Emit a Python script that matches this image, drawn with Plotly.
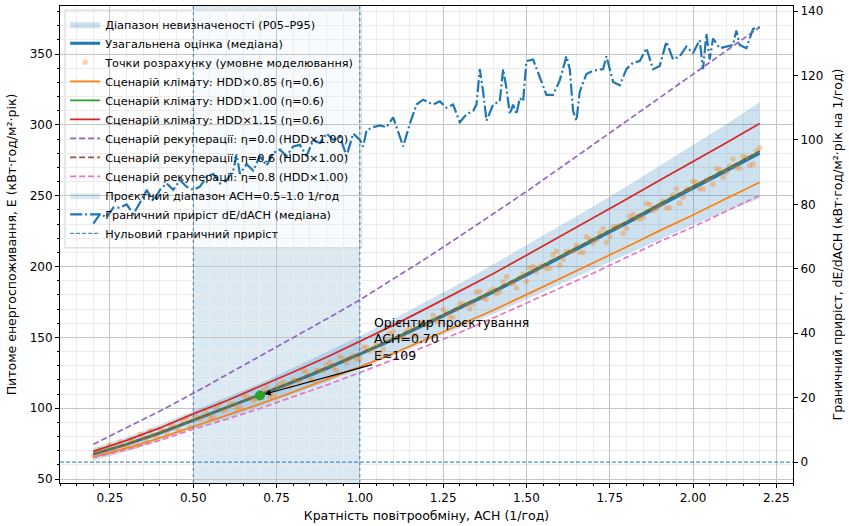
import plotly.graph_objects as go

# ---------------- data ----------------
ach = [0.2, 0.3, 0.4, 0.5, 0.6, 0.7, 0.8, 0.9, 1.0, 1.1, 1.2, 1.3, 1.4, 1.5, 1.6, 1.7, 1.8, 1.9, 2.0, 2.1, 2.2]
median = [67.5, 74.5, 82.5, 91.5, 100, 109, 118.5, 128, 138, 148.5, 159.5, 170.5, 182, 194, 206, 218, 230.5, 243, 255, 267.5, 280]
band_low = [63, 69.5, 77, 85.5, 93, 101, 110, 118.5, 128, 137, 147, 156.5, 166.5, 177, 187.5, 198, 209, 219.5, 229.5, 239, 248]
band_high = [72, 79.5, 88.3, 98, 107.5, 117.5, 128.5, 139.5, 151, 163, 175.5, 188, 201.5, 215, 228.5, 242.5, 256.5, 271, 285.5, 300.5, 316]
hdd_085 = [65.5, 71.8, 79, 87, 94.8, 103, 111.5, 120.2, 129.2, 138.7, 148.7, 158.7, 169.2, 180.2, 191.3, 202.3, 213.8, 225.4, 236.4, 248, 259.5]
hdd_100 = [67.5, 74.6, 82.7, 91.7, 100.3, 109.4, 119, 128.6, 138.6, 149.2, 160.3, 171.3, 182.9, 195, 207.1, 219.1, 231.7, 244.3, 256.4, 268.9, 281.5]
hdd_115 = [69.5, 77.3, 86.1, 96, 105.3, 115.2, 125.6, 136, 147, 158.5, 170.5, 182.5, 195, 208, 221, 234, 247.5, 261, 274, 287.5, 301]
eta_00 = [74.5, 86, 98, 110.5, 123.5, 136.5, 149.5, 163, 176.5, 191, 206, 221.5, 237, 253, 269.5, 286, 302.5, 319, 336, 352.5, 369]
eta_06 = [67.5, 74.6, 82.7, 91.7, 100.3, 109.4, 119, 128.6, 138.6, 149.2, 160.3, 171.3, 182.9, 195, 207.1, 219.1, 231.7, 244.3, 256.4, 268.9, 281.5]
eta_08 = [65.2, 70.7, 77.3, 85.2, 92.2, 99.8, 108.2, 116.3, 125.2, 134.3, 144, 153.5, 163.7, 174.3, 184.8, 195.3, 206.5, 217.7, 228, 239.2, 250.3]

pts_x = [0.20, 0.22, 0.24, 0.26, 0.28, 0.30, 0.32, 0.34, 0.36, 0.38,
         0.40, 0.42, 0.44, 0.46, 0.48, 0.50, 0.52, 0.54, 0.56, 0.58,
         0.60, 0.62, 0.64, 0.66, 0.68, 0.70, 0.72, 0.74, 0.76, 0.78,
         0.80, 0.82, 0.84, 0.86, 0.88, 0.90, 0.92, 0.94, 0.96, 0.98,
         1.00, 1.02, 1.04, 1.06, 1.08, 1.10, 1.12, 1.14, 1.16, 1.18,
         1.20, 1.22, 1.24, 1.26, 1.28, 1.30, 1.32, 1.34, 1.36, 1.38,
         1.40, 1.42, 1.44, 1.46, 1.48, 1.50, 1.52, 1.54, 1.56, 1.58,
         1.60, 1.62, 1.64, 1.66, 1.68, 1.70, 1.72, 1.74, 1.76, 1.78,
         1.80, 1.82, 1.84, 1.86, 1.88, 1.90, 1.92, 1.94, 1.96, 1.98,
         2.00, 2.02, 2.04, 2.06, 2.08, 2.10, 2.12, 2.14, 2.16, 2.18, 2.20]
pts_y = [66.5, 70.9, 70.8, 69.2, 76.1, 73.0, 77.1, 81.7, 76.3, 80.9,
         85.0, 82.3, 87.6, 83.9, 93.2, 92.0, 92.2, 96.9, 93.6, 103.3,
         99.5, 102.8, 101.1, 108.4, 105.7, 109.0, 114.9, 109.3, 116.7, 115.6,
         120.0, 118.4, 125.8, 119.7, 126.6, 130.5, 128.5, 136.5, 132.0, 137.0,
         135.0, 143.1, 142.2, 139.3, 148.4, 154.0, 149.7, 154.4, 151.6, 159.8,
         159.0, 165.7, 161.4, 167.1, 164.3, 173.5, 173.3, 173.6, 182.4, 176.7,
         184.0, 182.4, 192.8, 188.2, 192.1, 189.5, 199.9, 199.8, 198.7, 208.1,
         201.0, 210.4, 210.8, 210.2, 221.1, 216.5, 223.5, 217.0, 228.0, 229.0,
         227.0, 237.0, 233.5, 244.5, 239.5, 243.5, 241.4, 250.8, 244.7, 254.6,
         260.0, 255.0, 261.0, 258.0, 268.5, 266.5, 276.0, 269.5, 277.0, 272.5, 284.0]
pts_x2 = [0.21, 0.23, 0.25, 0.27, 0.29, 0.31, 0.33, 0.35, 0.37, 0.39,
          0.41, 0.43, 0.45, 0.47, 0.49, 0.51, 0.53, 0.55, 0.57, 0.59,
          0.61, 0.63, 0.65, 0.67, 0.69, 0.71, 0.73, 0.75, 0.77, 0.79,
          0.81, 0.83, 0.85, 0.87, 0.89, 0.91, 0.93, 0.95, 0.97, 0.99,
          1.01, 1.03, 1.05, 1.07, 1.09, 1.11, 1.13, 1.15, 1.17, 1.19,
          1.21, 1.23, 1.25, 1.27, 1.29, 1.31, 1.33, 1.35, 1.37, 1.39,
          1.41, 1.43, 1.45, 1.47, 1.49, 1.51, 1.53, 1.55, 1.57, 1.59,
          1.61, 1.63, 1.65, 1.67, 1.69, 1.71, 1.73, 1.75, 1.77, 1.79,
          1.81, 1.83, 1.85, 1.87, 1.89, 1.91, 1.93, 1.95, 1.97, 1.99,
          2.01, 2.03, 2.05, 2.07, 2.09, 2.11, 2.13, 2.15, 2.17, 2.19]
pts_y2 = [69.7, 67.6, 74.0, 72.4, 72.8, 77.8, 73.4, 79.5, 84.1, 79.7,
          83.9, 88.2, 85.5, 90.8, 86.6, 93.9, 94.1, 93.3, 101.0, 98.2,
          102.9, 99.7, 109.0, 106.8, 106.6, 112.5, 107.9, 114.8, 118.7, 115.6,
          119.5, 126.4, 120.3, 126.7, 126.6, 132.5, 126.5, 135.0, 135.5, 134.5,
          143.1, 140.2, 144.8, 141.9, 152.5, 149.6, 149.8, 157.0, 151.2, 160.9,
          161.6, 161.3, 169.5, 164.2, 169.9, 173.7, 170.0, 181.8, 177.6, 182.4,
          180.7, 189.1, 188.0, 184.9, 194.8, 199.2, 196.1, 200.5, 198.9, 210.8,
          205.2, 210.6, 215.0, 209.9, 219.3, 218.8, 226.8, 221.3, 228.3, 223.3,
          235.3, 234.3, 234.8, 243.8, 240.8, 246.2, 241.6, 255.0, 248.9, 254.8,
          259.3, 254.8, 261.8, 269.3, 263.3, 270.8, 269.8, 277.8, 271.3, 281.8]

marg_x = [0.20, 0.22, 0.24, 0.26, 0.28, 0.30, 0.32, 0.34, 0.36, 0.38,
          0.40, 0.42, 0.44, 0.46, 0.48, 0.50, 0.52, 0.54, 0.56, 0.58,
          0.60, 0.62, 0.63, 0.64, 0.66, 0.68, 0.70, 0.72, 0.74, 0.76,
          0.78, 0.80, 0.82, 0.84, 0.86, 0.88, 0.90, 0.92, 0.94, 0.96, 0.98,
          1.00, 1.01, 1.02, 1.04, 1.06, 1.08, 1.10, 1.12, 1.13, 1.15,
          1.17, 1.19, 1.22, 1.24, 1.26, 1.28, 1.30, 1.32, 1.34, 1.35,
          1.36, 1.37, 1.38, 1.40, 1.42, 1.43, 1.44, 1.45, 1.46, 1.47,
          1.48, 1.49, 1.50, 1.52, 1.54, 1.56, 1.58, 1.60, 1.62, 1.63,
          1.64, 1.65, 1.66, 1.68, 1.70, 1.73, 1.74, 1.76, 1.78, 1.80,
          1.82, 1.84, 1.86, 1.88, 1.90, 1.92, 1.94, 1.96, 1.98, 2.00,
          2.02, 2.03, 2.04, 2.05, 2.06, 2.08, 2.10, 2.12, 2.13, 2.14,
          2.16, 2.18, 2.20]
marg_y = [74, 77, 76, 79, 79, 80, 77, 80.5, 84.5, 81,
          84.5, 86.5, 84.5, 87.5, 85.5, 84.5, 85.5, 88.5, 89.5, 86.5,
          87.5, 90.5, 95.5, 89.5, 92.5, 90.5, 95, 92, 96, 97,
          95, 98, 98.5, 95, 100, 99, 102, 100, 101, 95, 102,
          100, 98, 103, 104, 104.5, 104, 107, 101, 98, 105,
          111, 112.5, 111, 112, 110, 111, 105.5, 108, 109, 111,
          122, 115, 106, 111, 112, 122, 116, 108, 111, 108,
          113, 112, 124.5, 125, 119.5, 114, 114, 118.5, 126, 122,
          109, 106, 115, 120.5, 121.5, 122, 126, 118, 117, 122,
          124, 124.5, 128.5, 122, 123, 130.5, 125, 126, 129, 127,
          131, 122, 133, 125, 131.5, 128.5, 129, 129.5, 134, 129.5,
          128.5, 134.5, 135]

design_range = [0.5, 1.0]
anchor_ach = 0.70
anchor_e = 109

# ---------------- styling ----------------
FONT = "DejaVu Sans"
BLUE = "#1f77b4"

fig = go.Figure()

# uncertainty band
fig.add_trace(go.Scatter(x=ach, y=band_low, mode="lines", line=dict(width=0),
                         showlegend=False, hoverinfo="skip"))
fig.add_trace(go.Scatter(x=ach, y=band_high, mode="lines", line=dict(width=0),
                         fill="tonexty", fillcolor="rgba(31,119,180,0.22)",
                         name="Діапазон невизначеності (P05–P95)"))
# median
fig.add_trace(go.Scatter(x=ach, y=median, mode="lines", line=dict(color=BLUE, width=3),
                         name="Узагальнена оцінка (медіана)"))
# points
fig.add_trace(go.Scatter(x=pts_x + pts_x2, y=pts_y + pts_y2, mode="markers",
                         marker=dict(color="#ff7f0e", size=5.5, opacity=0.35, line=dict(width=0)),
                         name="Точки розрахунку (умовне моделювання)"))
# climate scenarios
fig.add_trace(go.Scatter(x=ach, y=hdd_085, mode="lines", line=dict(color="#ff7f0e", width=1.7),
                         name="Сценарій клімату: HDD×0.85 (η=0.6)"))
fig.add_trace(go.Scatter(x=ach, y=hdd_100, mode="lines", line=dict(color="#2ca02c", width=1.7),
                         name="Сценарій клімату: HDD×1.00 (η=0.6)"))
fig.add_trace(go.Scatter(x=ach, y=hdd_115, mode="lines", line=dict(color="#d62728", width=1.7),
                         name="Сценарій клімату: HDD×1.15 (η=0.6)"))
# recovery scenarios
fig.add_trace(go.Scatter(x=ach, y=eta_00, mode="lines",
                         line=dict(color="#9467bd", width=1.7, dash="6px,3px"),
                         name="Сценарій рекуперації: η=0.0 (HDD×1.00)"))
fig.add_trace(go.Scatter(x=ach, y=eta_06, mode="lines",
                         line=dict(color="#8c564b", width=1.7, dash="6px,3px"),
                         name="Сценарій рекуперації: η=0.6 (HDD×1.00)"))
fig.add_trace(go.Scatter(x=ach, y=eta_08, mode="lines",
                         line=dict(color="#e377c2", width=1.7, dash="6px,3px"),
                         name="Сценарій рекуперації: η=0.8 (HDD×1.00)"))
# design range legend entry
fig.add_trace(go.Scatter(x=[None], y=[None], mode="lines", fill="toself",
                         fillcolor="rgba(31,119,180,0.16)", line=dict(width=0),
                         name="Проєктний діапазон ACH=0.5–1.0 1/год"))
# design anchor marker
fig.add_trace(go.Scatter(x=[anchor_ach], y=[anchor_e], mode="markers",
                         marker=dict(color="#2ca02c", size=10), showlegend=False))
# marginal increment (right axis)
fig.add_trace(go.Scatter(x=marg_x, y=marg_y, mode="lines", yaxis="y2",
                         line=dict(color=BLUE, width=2.2, dash="12px,3px,2px,3px"),
                         name="Граничний приріст dE/dACH (медіана)"))
fig.add_trace(go.Scatter(x=[0.1, 2.3], y=[0, 0], mode="lines", yaxis="y2",
                         line=dict(color="rgba(31,119,180,0.8)", width=1.2, dash="4px,2px"),
                         name="Нульовий граничний приріст"))

# design range span
fig.add_shape(type="rect", xref="x", yref="paper", x0=design_range[0], x1=design_range[1],
              y0=0, y1=1, fillcolor="rgba(31,119,180,0.16)", line=dict(width=0), layer="between")
# legend frame drawn beneath the traces (as in the original, where the twin-axis curve sits over it)
fig.add_shape(type="rect", xref="paper", yref="paper", x0=0.0068, x1=0.411, y0=0.493, y1=0.9916,
              fillcolor="rgba(255,255,255,0.8)", line=dict(color="#d0d0d0", width=1), layer="between")
for xv in design_range:
    fig.add_shape(type="line", xref="x", yref="paper", x0=xv, x1=xv, y0=0, y1=1,
                  line=dict(color="rgba(31,119,180,0.9)", width=1, dash="dot"), layer="above")

fig.add_annotation(x=anchor_ach, y=anchor_e, ax=1.037, ay=130.8, xref="x", yref="y",
                   axref="x", ayref="y", showarrow=True, arrowhead=2, arrowsize=1,
                   arrowwidth=1.2, arrowcolor="black", standoff=5,
                   text="Орієнтир проєктування<br>ACH=0.70<br>E≈109",
                   xanchor="left", yanchor="bottom", align="left",
                   font=dict(family=FONT, size=12.5, color="black"))

axis_common = dict(showline=True, linecolor="black", linewidth=1, ticks="outside",
                   ticklen=4, tickcolor="black", tickfont=dict(family=FONT, size=12, color="black"),
                   zeroline=False)

fig.update_layout(
    width=849, height=526,
    margin=dict(l=60, r=56, t=6, b=43),
    paper_bgcolor="white", plot_bgcolor="white",
    font=dict(family=FONT, size=12, color="black"),
    xaxis=dict(range=[0.1, 2.3], tick0=0.25, dtick=0.25, tickformat=".2f", mirror=True,
               showgrid=True, gridcolor="#c4c4c4", gridwidth=1,
               minor=dict(dtick=0.05, tick0=0, ticks="outside", ticklen=2, tickcolor="black",
                          showgrid=True, gridcolor="#ececec", gridwidth=0.8),
               title=dict(text="Кратність повітрообміну, ACH (1/год)", standoff=6,
                          font=dict(family=FONT, size=12.5)),
               automargin=False, **axis_common),
    yaxis=dict(range=[47.2, 384], tick0=50, dtick=50,
               showgrid=True, gridcolor="#c4c4c4", gridwidth=1,
               minor=dict(dtick=10, tick0=0, ticks="outside", ticklen=2, tickcolor="black",
                          showgrid=True, gridcolor="#ececec", gridwidth=0.8),
               title=dict(text="Питоме енергоспоживання, E (кВт·год/м²·рік)", standoff=10,
                          font=dict(family=FONT, size=12.5)),
               automargin=False, **axis_common),
    yaxis2=dict(range=[-6.5, 141.6], tick0=0, dtick=20, overlaying="y", side="right",
                showgrid=False,
                title=dict(text="Граничний приріст, dE/dACH (кВт·год/м²·рік на 1/год)", standoff=10,
                           font=dict(family=FONT, size=12.5)),
                automargin=False, **axis_common),
    legend=dict(x=0.007, y=0.992, xanchor="left", yanchor="top", traceorder="normal",
                bgcolor="rgba(0,0,0,0)", borderwidth=0,
                font=dict(family=FONT, size=11.3, color="black"), itemwidth=30,
                tracegroupgap=0),
    showlegend=True,
)

fig.write_html("out.html", config={"displayModeBar": False},
               post_script="document.body.style.margin='0';")
